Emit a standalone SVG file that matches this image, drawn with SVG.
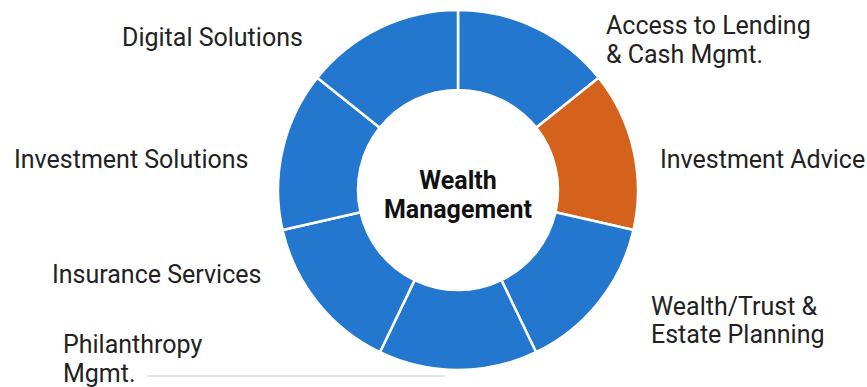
<svg xmlns="http://www.w3.org/2000/svg" width="867" height="387" viewBox="0 0 867 387">
  <style>
    .seg { fill: #2477ce; stroke: #ffffff; stroke-width: 2.5; stroke-linejoin: round; }
    .seg.hl { fill: #d5621c; }
    .lbl { font-family: Roboto, "Liberation Sans", sans-serif; font-size: 25px; fill: #222222; }
    .hub { font-family: Roboto, "Liberation Sans", sans-serif; font-size: 25px; font-weight: bold; fill: #111111; text-anchor: middle; }
    .rule { stroke: #dddddd; stroke-width: 1.5; fill: none; }
  </style>
  <rect width="867" height="387" fill="#ffffff"/>

  <!-- donut ring: 7 equal segments around (458,190), R=180, r=100 -->
  <g id="ring">
    <path id="seg-lending" class="seg" d="M458,10 A180,180 0 0 1 598.73,77.77 L536.18,127.65 A100,100 0 0 0 458,90 Z"/>
    <path id="seg-advice" class="seg hl" d="M598.73,77.77 A180,180 0 0 1 633.49,230.05 L555.49,212.25 A100,100 0 0 0 536.18,127.65 Z"/>
    <path id="seg-trust" class="seg" d="M633.49,230.05 A180,180 0 0 1 536.10,352.17 L501.39,280.10 A100,100 0 0 0 555.49,212.25 Z"/>
    <path id="seg-philanthropy" class="seg" d="M536.10,352.17 A180,180 0 0 1 379.90,352.17 L414.61,280.10 A100,100 0 0 0 501.39,280.10 Z"/>
    <path id="seg-insurance" class="seg" d="M379.90,352.17 A180,180 0 0 1 282.51,230.05 L360.51,212.25 A100,100 0 0 0 414.61,280.10 Z"/>
    <path id="seg-investment" class="seg" d="M282.51,230.05 A180,180 0 0 1 317.27,77.77 L379.82,127.65 A100,100 0 0 0 360.51,212.25 Z"/>
    <path id="seg-digital" class="seg" d="M317.27,77.77 A180,180 0 0 1 458,10 L458,90 A100,100 0 0 0 379.82,127.65 Z"/>
  </g>

  <g id="hub">
    <text class="hub" x="458" y="189">Wealth</text>
    <text class="hub" x="458" y="218">Management</text>
  </g>

  <g id="connectors">
    <line class="rule" x1="147" y1="376" x2="445" y2="376"/>
  </g>

  <g id="label-lending">
    <text class="lbl" x="606" y="34">Access to Lending</text>
    <text class="lbl" x="606" y="63">&amp; Cash Mgmt.</text>
  </g>
  <g id="label-advice">
    <text class="lbl" x="660" y="168">Investment Advice</text>
  </g>
  <g id="label-trust">
    <text class="lbl" x="651" y="315">Wealth/Trust &amp;</text>
    <text class="lbl" x="651" y="343">Estate Planning</text>
  </g>
  <g id="label-philanthropy">
    <text class="lbl" x="63" y="353">Philanthropy</text>
    <text class="lbl" x="63" y="382">Mgmt.</text>
  </g>
  <g id="label-insurance">
    <text class="lbl" x="52" y="283">Insurance Services</text>
  </g>
  <g id="label-investment">
    <text class="lbl" x="14" y="168">Investment Solutions</text>
  </g>
  <g id="label-digital">
    <text class="lbl" x="122" y="46">Digital Solutions</text>
  </g>
</svg>
